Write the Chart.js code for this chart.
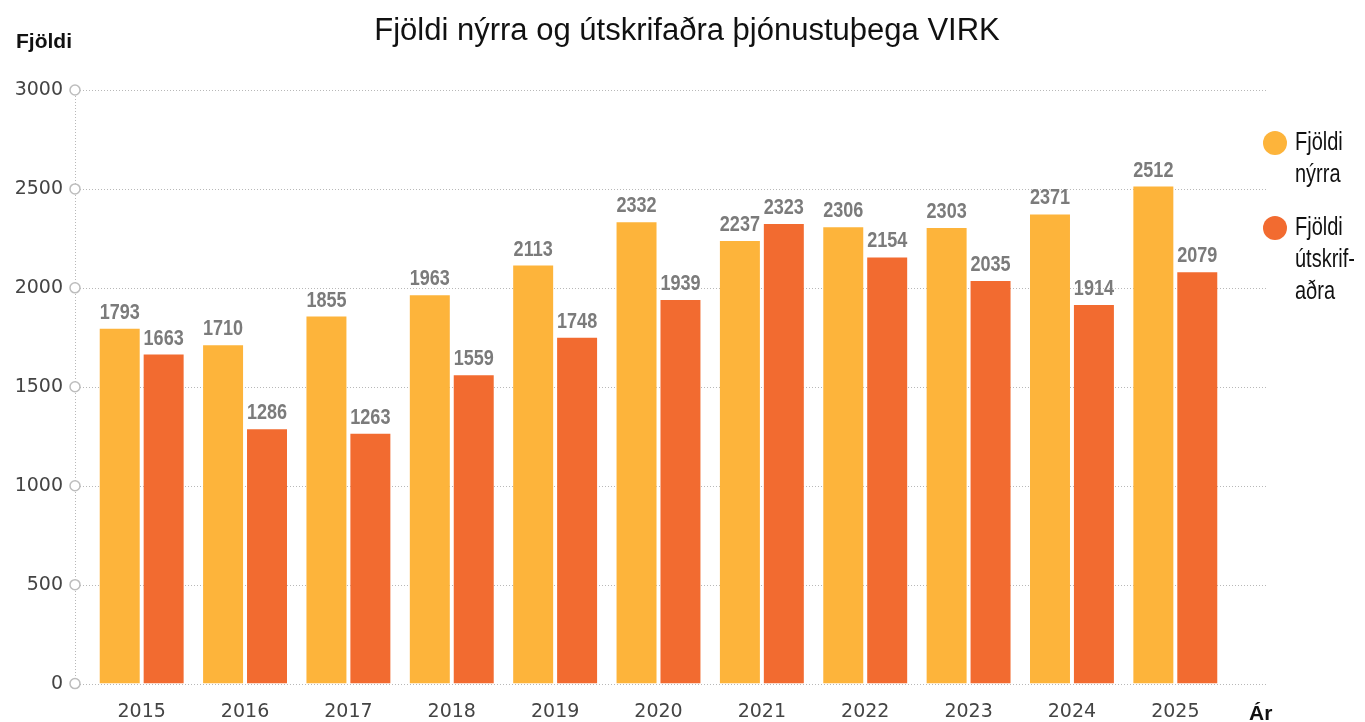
<!DOCTYPE html>
<html lang="is">
<head>
<meta charset="UTF-8">
<title>Fjöldi nýrra og útskrifaðra þjónustuþega VIRK</title>
<script src="https://cdn.jsdelivr.net/npm/chart.js"></script>
<style>
  body { margin: 0; background: #fff; }
</style>
</head>
<body>
<canvas id="chart1" width="1365" height="722"></canvas>

<script>
  // gögn
  const ar = ['2015', '2016', '2017', '2018', '2019', '2020', '2021', '2022', '2023', '2024', '2025'];
  const nyrra = [1793, 1710, 1855, 1963, 2113, 2332, 2237, 2306, 2303, 2371, 2512];
  const utskrifadra = [1663, 1286, 1263, 1559, 1748, 1939, 2323, 2154, 2035, 1914, 2079];
  const yTicks = [0, 500, 1000, 1500, 2000, 2500, 3000];
  const legendLines = [['Fjöldi', 'nýrra'], ['Fjöldi', 'útskrif-', 'aðra']];

  const GULT = '#FDB43B';
  const APPELSINUGULT = '#F26B30';

  // mjór texti: venjulegt letur þjappað lárétt
  function narrowText(ctx, txt, x, y, sx) {
    ctx.save();
    ctx.translate(x, y);
    ctx.scale(sx, 1);
    ctx.fillText(txt, 0, 0);
    ctx.restore();
  }

  // punktalínur, ás og hringir
  const gridPlugin = {
    id: 'grid',
    beforeDatasetsDraw(chart) {
      const ctx = chart.ctx;
      const y = chart.scales.y;
      const axX = 75;
      ctx.save();
      ctx.strokeStyle = '#b8b8b8';
      ctx.lineWidth = 1;
      ctx.setLineDash([1, 2]);
      yTicks.forEach(function (v) {
        const py = Math.round(y.getPixelForValue(v)) + 0.5;
        ctx.beginPath();
        ctx.moveTo(axX + 5, py);
        ctx.lineTo(1268, py);
        ctx.stroke();
      });
      ctx.beginPath();
      ctx.moveTo(axX + 0.5, y.getPixelForValue(3000));
      ctx.lineTo(axX + 0.5, y.getPixelForValue(0));
      ctx.stroke();
      ctx.setLineDash([]);
      ctx.lineWidth = 1.5;
      ctx.strokeStyle = '#bdbdbd';
      ctx.fillStyle = '#fff';
      yTicks.forEach(function (v) {
        const py = y.getPixelForValue(v);
        ctx.beginPath();
        ctx.arc(axX, py, 5, 0, Math.PI * 2);
        ctx.fill();
        ctx.stroke();
      });
      ctx.restore();
    }
  };

  // tölur ofan á súlum, ártöl, titill, ásaheiti og skýringar
  const textPlugin = {
    id: 'texts',
    afterDatasetsDraw(chart) {
      const ctx = chart.ctx;
      const x = chart.scales.x;
      ctx.save();
      ctx.fillStyle = '#7b7b7b';
      ctx.font = 'bold 22px "Liberation Sans", Arial, sans-serif';
      ctx.textAlign = 'center';
      ctx.textBaseline = 'alphabetic';
      chart.data.datasets.forEach(function (ds, i) {
        chart.getDatasetMeta(i).data.forEach(function (bar, j) {
          narrowText(ctx, String(ds.data[j]), bar.x, bar.y - 10, 0.82);
        });
      });

      ctx.fillStyle = '#444';
      ctx.font = '19px "DejaVu Sans", sans-serif';
      ctx.textBaseline = 'middle';
      chart.data.labels.forEach(function (lbl, i) {
        ctx.fillText(lbl, x.getPixelForValue(i), 712);
      });

      ctx.textBaseline = 'alphabetic';
      ctx.fillStyle = '#111';
      ctx.font = '31px "Liberation Sans", Arial, sans-serif';
      ctx.fillText('Fjöldi nýrra og útskrifaðra þjónustuþega VIRK', 687, 40);

      ctx.textAlign = 'left';
      ctx.font = 'bold 21px "Liberation Sans", Arial, sans-serif';
      ctx.fillText('Fjöldi', 16, 48);
      ctx.fillText('Ár', 1249, 720);

      const tops = [150, 235];
      ctx.font = '25px "Liberation Sans", Arial, sans-serif';
      chart.data.datasets.forEach(function (ds, i) {
        ctx.fillStyle = ds.backgroundColor;
        ctx.beginPath();
        ctx.arc(1275, tops[i] - 7, 12, 0, Math.PI * 2);
        ctx.fill();
        ctx.fillStyle = '#111';
        legendLines[i].forEach(function (line, k) {
          narrowText(ctx, line, 1295, tops[i] + k * 32, 0.8);
        });
      });
      ctx.restore();
    }
  };

  new Chart(document.getElementById('chart1'), {
    type: 'bar',
    data: {
      labels: ar,
      datasets: [
        { label: 'Fjöldi nýrra', data: nyrra, backgroundColor: GULT },
        { label: 'Fjöldi útskrifaðra', data: utskrifadra, backgroundColor: APPELSINUGULT }
      ]
    },
    options: {
      responsive: false,
      animation: false,
      layout: { padding: { top: 90, right: 138, left: 0, bottom: 33 } },
      datasets: { bar: { categoryPercentage: 0.85, barPercentage: 0.91 } },
      plugins: {
        legend: { display: false },
        title: { display: false },
        tooltip: { enabled: false }
      },
      scales: {
        x: {
          display: false
        },
        y: {
          min: 0,
          max: 3000,
          grid: { display: false, drawTicks: false },
          border: { display: false },
          ticks: {
            stepSize: 500,
            color: '#444',
            padding: 27,
            font: { family: '"DejaVu Sans", sans-serif', size: 19 },
            callback: function (v) { return String(v); }
          },
          afterFit: function (s) { s.width = 90; }
        }
      }
    },
    plugins: [gridPlugin, textPlugin]
  });
</script>
</body>
</html>
